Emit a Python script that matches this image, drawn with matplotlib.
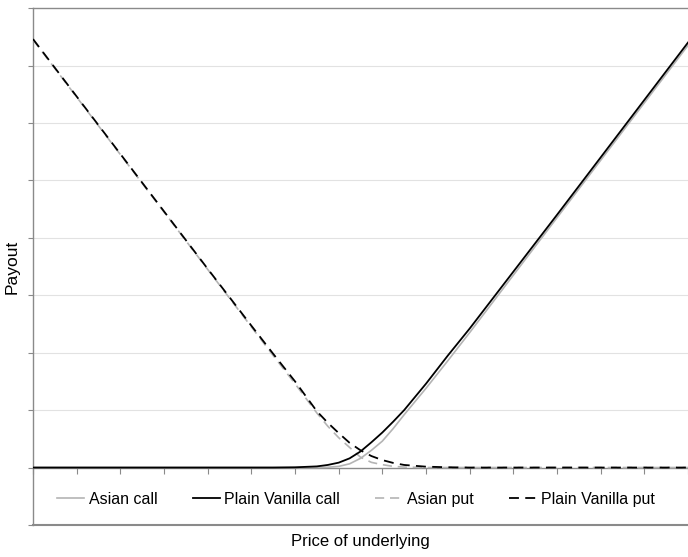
import numpy as np
import matplotlib.pyplot as plt
from matplotlib import font_manager

# prices (one x tick = one unit)
price = [0, 1, 2, 3, 4, 5, 5.5, 6, 6.5, 6.75, 7, 7.25, 7.5, 7.75, 8, 8.25,
         8.5, 9, 9.5, 10, 11, 12, 13, 14, 15]

vanilla_call = [0, 0, 0, 0, 0, 0, 0, 0.004, 0.02, 0.045, 0.085, 0.16, 0.28, 0.44,
                0.61, 0.8, 1.0, 1.46, 1.95, 2.42, 3.41, 4.4, 5.4, 6.4, 7.4]
asian_call = [0, 0, 0, 0, 0, 0, 0, 0, 0, 0.005, 0.02, 0.065, 0.16, 0.3,
              0.46, 0.68, 0.92, 1.38, 1.86, 2.35, 3.35, 4.35, 5.35, 6.35, 7.35]
vanilla_put = [7.46, 6.46, 5.46, 4.46, 3.46, 2.47, 1.98, 1.5, 0.98, 0.78, 0.6,
               0.43, 0.3, 0.2, 0.13, 0.08, 0.045, 0.015, 0.005, 0, 0, 0, 0, 0, 0]
asian_put = [7.45, 6.45, 5.45, 4.45, 3.45, 2.45, 1.95, 1.46, 0.95, 0.72, 0.52,
             0.35, 0.18, 0.09, 0.05, 0.02, 0.008, 0, 0, 0, 0, 0, 0, 0, 0]

names = [f.name for f in font_manager.fontManager.ttflist]
fam = 'Liberation Sans Narrow' if 'Liberation Sans Narrow' in names else 'Liberation Sans'
plt.rcParams['font.family'] = [fam, 'DejaVu Sans']

grey = '#b4b4b4'
frame = '#8a8a8a'

fig = plt.figure(figsize=(6.88, 5.57), dpi=100)
ax = fig.add_axes([0.048, 0.0575, 0.952, 0.928])

for yv in range(1, 8):
    ax.axhline(yv, color='#e2e2e2', lw=0.8, zorder=0)

ax.plot(price, asian_call, color=grey, lw=1.2, label='Asian call', zorder=3)
ax.plot(price, vanilla_call, color='black', lw=1.3, label='Plain Vanilla call', zorder=4)
ax.plot(price, asian_put, color=grey, lw=1.2, dashes=(5.5, 3.5), label='Asian put', zorder=3)
ax.plot(price, vanilla_put, color='black', lw=1.3, dashes=(5.5, 3.5), label='Plain Vanilla put', zorder=4)

ax.set_xlim(0, 14.95)
ax.set_ylim(-1, 8)

ax.spines['right'].set_visible(False)
for s in ['left', 'top', 'bottom']:
    ax.spines[s].set_color(frame)
    ax.spines[s].set_linewidth(1.0)
ax.spines['bottom'].set_position(('data', 0))
ax.axhline(-1, color=frame, lw=1.5, clip_on=False)

ax.set_xticks(range(0, 16))
ax.set_yticks(range(-1, 9))
ax.tick_params(axis='x', direction='out', length=4.5, color=frame, labelbottom=False)
ax.tick_params(axis='y', direction='out', length=3.5, color=frame, labelleft=False)

ax.set_ylabel('Payout', fontsize=12.5)
ax.yaxis.set_label_coords(-0.02, 0.5)
ax.text(0.5, -0.018, 'Price of underlying', transform=ax.transAxes,
        ha='center', va='top', fontsize=12)

ax.legend(loc='center', bbox_to_anchor=(0.493, 0.05), ncol=4, frameon=False,
          fontsize=11.5, handlelength=1.7, handletextpad=0.3, columnspacing=2.2)

fig.savefig('out.png')
